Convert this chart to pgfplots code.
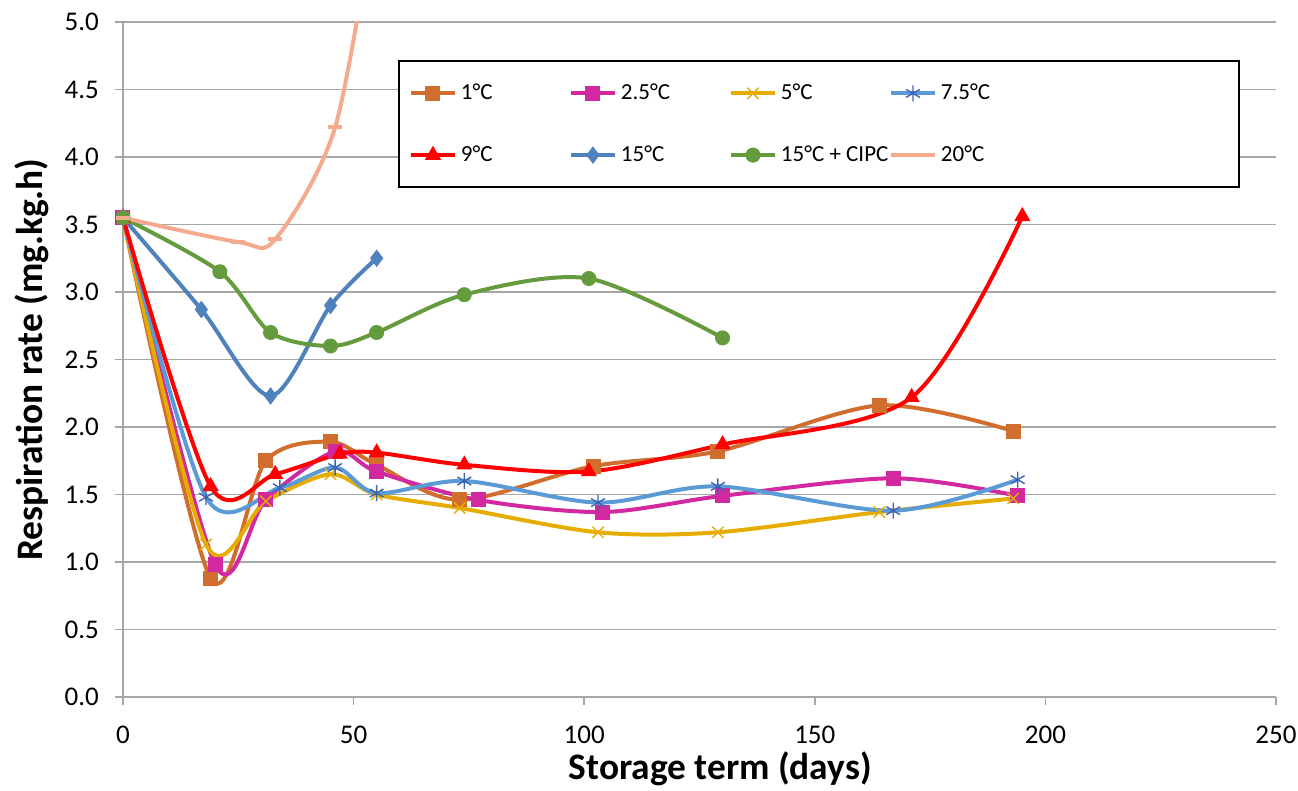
\documentclass[border=0pt]{standalone}
\usepackage{fontspec}
\setmainfont{Carlito}
\usepackage{pgfplots}
\pgfplotsset{compat=1.18}
\definecolor{cOne}{RGB}{210,110,45}
\definecolor{cTwo}{RGB}{210,40,160}
\definecolor{cFive}{RGB}{230,172,0}
\definecolor{cSeven}{RGB}{91,155,213}
\definecolor{cSevenM}{RGB}{60,100,180}
\definecolor{cNine}{RGB}{255,0,0}
\definecolor{cFift}{RGB}{79,129,189}
\definecolor{cCipc}{RGB}{100,155,60}
\definecolor{cTwenty}{RGB}{244,170,140}
\definecolor{gridc}{RGB}{166,166,166}
\begin{document}
\begin{tikzpicture}
\useasboundingbox (0,0) rectangle (649pt,395.5pt);
\begin{axis}[
  at={(61.5pt,47pt)}, anchor=south west,
  scale only axis, width=576.5pt, height=337.5pt,
  xmin=0, xmax=250, ymin=0, ymax=5,
  xtick={0,50,...,250}, ytick={0,0.5,...,5},
  axis x line=bottom, axis y line=left,
  axis line style={-, draw=gridc, line width=0.8pt},
  tick style={draw=gridc, line width=0.8pt},
  tick align=outside, major tick length=4pt,
  ymajorgrids, grid style={draw=gridc, line width=0.8pt},
  /pgf/number format/assume math mode=true,
  tick label style={font=\fontsize{13.5}{16}\selectfont},
  yticklabel style={xshift=-4.5pt, /pgf/number format/.cd, fixed, fixed zerofill, precision=1},
  xticklabel style={yshift=-7pt, /pgf/number format/.cd, fixed},
  xlabel={Storage term (days)},
  ylabel={Respiration rate (mg.kg.h)},
  label style={font=\bfseries\fontsize{18.7}{22}\selectfont},
  xlabel style={at={(rel axis cs:0.518,0)}, anchor=base, yshift=-41.5pt},
  ylabel style={at={(rel axis cs:-0.0694,0.5)}, anchor=base},
  every axis plot/.append style={smooth, line width=2pt},
  legend columns=4,
  legend style={at={(rel axis cs:0.2385,0.9437)}, anchor=north west,
    draw=black, line width=1pt, fill=white,
    font=\fontsize{11.5}{13.5}\selectfont,
    inner xsep=5pt, inner ysep=9.5pt, row sep=17.5pt,
    /tikz/column sep=0pt},
  legend cell align=left,
  legend image code/.code={
    \draw[mark repeat=2, mark phase=2] plot coordinates {(0pt,0pt) (11pt,0pt) (22pt,0pt)};
  },
]
% 1 C
\addplot[color=cOne, mark=square*, mark size=3.5pt, mark options={solid, line width=0.5pt}]
  coordinates {(0,3.55)(19,0.88)(31,1.75)(45,1.89)(55,1.72)(73,1.46)(102,1.71)(129,1.82)(164,2.16)(193,1.97)};
\addlegendentry{\makebox[52pt][l]{1°C}}
% 2.5 C
\addplot[color=cTwo, mark=square*, mark size=3.5pt, mark options={solid, line width=0.5pt}]
  coordinates {(0,3.55)(20,0.98)(31,1.46)(46,1.82)(55,1.67)(77,1.46)(104,1.37)(130,1.49)(167,1.62)(194,1.49)};
\addlegendentry{\makebox[52pt][l]{2.5°C}}
% 5 C
\addplot[color=cFive, mark=x, mark size=4pt, mark options={solid, line width=0.7pt}]
  coordinates {(0,3.55)(18,1.13)(31,1.45)(45,1.65)(55,1.50)(73,1.40)(103,1.22)(129,1.22)(164,1.37)(193,1.47)};
\addlegendentry{\makebox[52pt][l]{5°C}}
% 7.5 C
\addplot[color=cSeven, mark=asterisk, mark size=4pt, mark options={solid, line width=0.7pt, draw=cSevenM}]
  coordinates {(0,3.55)(18,1.48)(34,1.55)(46,1.70)(55,1.51)(74,1.60)(103,1.44)(129,1.56)(167,1.38)(194,1.61)};
\addlegendentry{\makebox[142pt][l]{7.5°C}}
% 9 C
\addplot[color=cNine, mark=triangle*, mark size=4.2pt, mark options={solid, line width=0.5pt}]
  coordinates {(0,3.55)(19,1.56)(33,1.65)(47,1.80)(55,1.81)(74,1.72)(101,1.67)(130,1.87)(171,2.22)(195,3.56)};
\addlegendentry{\makebox[52pt][l]{9°C}}
% 15 C
\addplot[color=cFift, mark=diamond*, mark size=4pt, mark options={solid, line width=0.5pt}]
  coordinates {(0,3.55)(17,2.87)(32,2.23)(45,2.90)(55,3.25)};
\addlegendentry{\makebox[52pt][l]{15°C}}
% 15 C + CIPC
\addplot[color=cCipc, mark=*, mark size=3.5pt, mark options={solid, line width=0.5pt}]
  coordinates {(0,3.55)(21,3.15)(32,2.70)(45,2.60)(55,2.70)(74,2.98)(101,3.10)(130,2.66)};
\addlegendentry{\makebox[52pt][l]{15°C + CIPC}}
% 20 C
\addplot[color=cTwenty, mark=-, mark size=3.5pt, mark options={solid, line width=2pt}]
  coordinates {(0,3.55)(25,3.37)(33,3.39)(46,4.22)(55,5.9)};
\addlegendentry{\makebox[142pt][l]{20°C}}
\end{axis}
\end{tikzpicture}
\end{document}
